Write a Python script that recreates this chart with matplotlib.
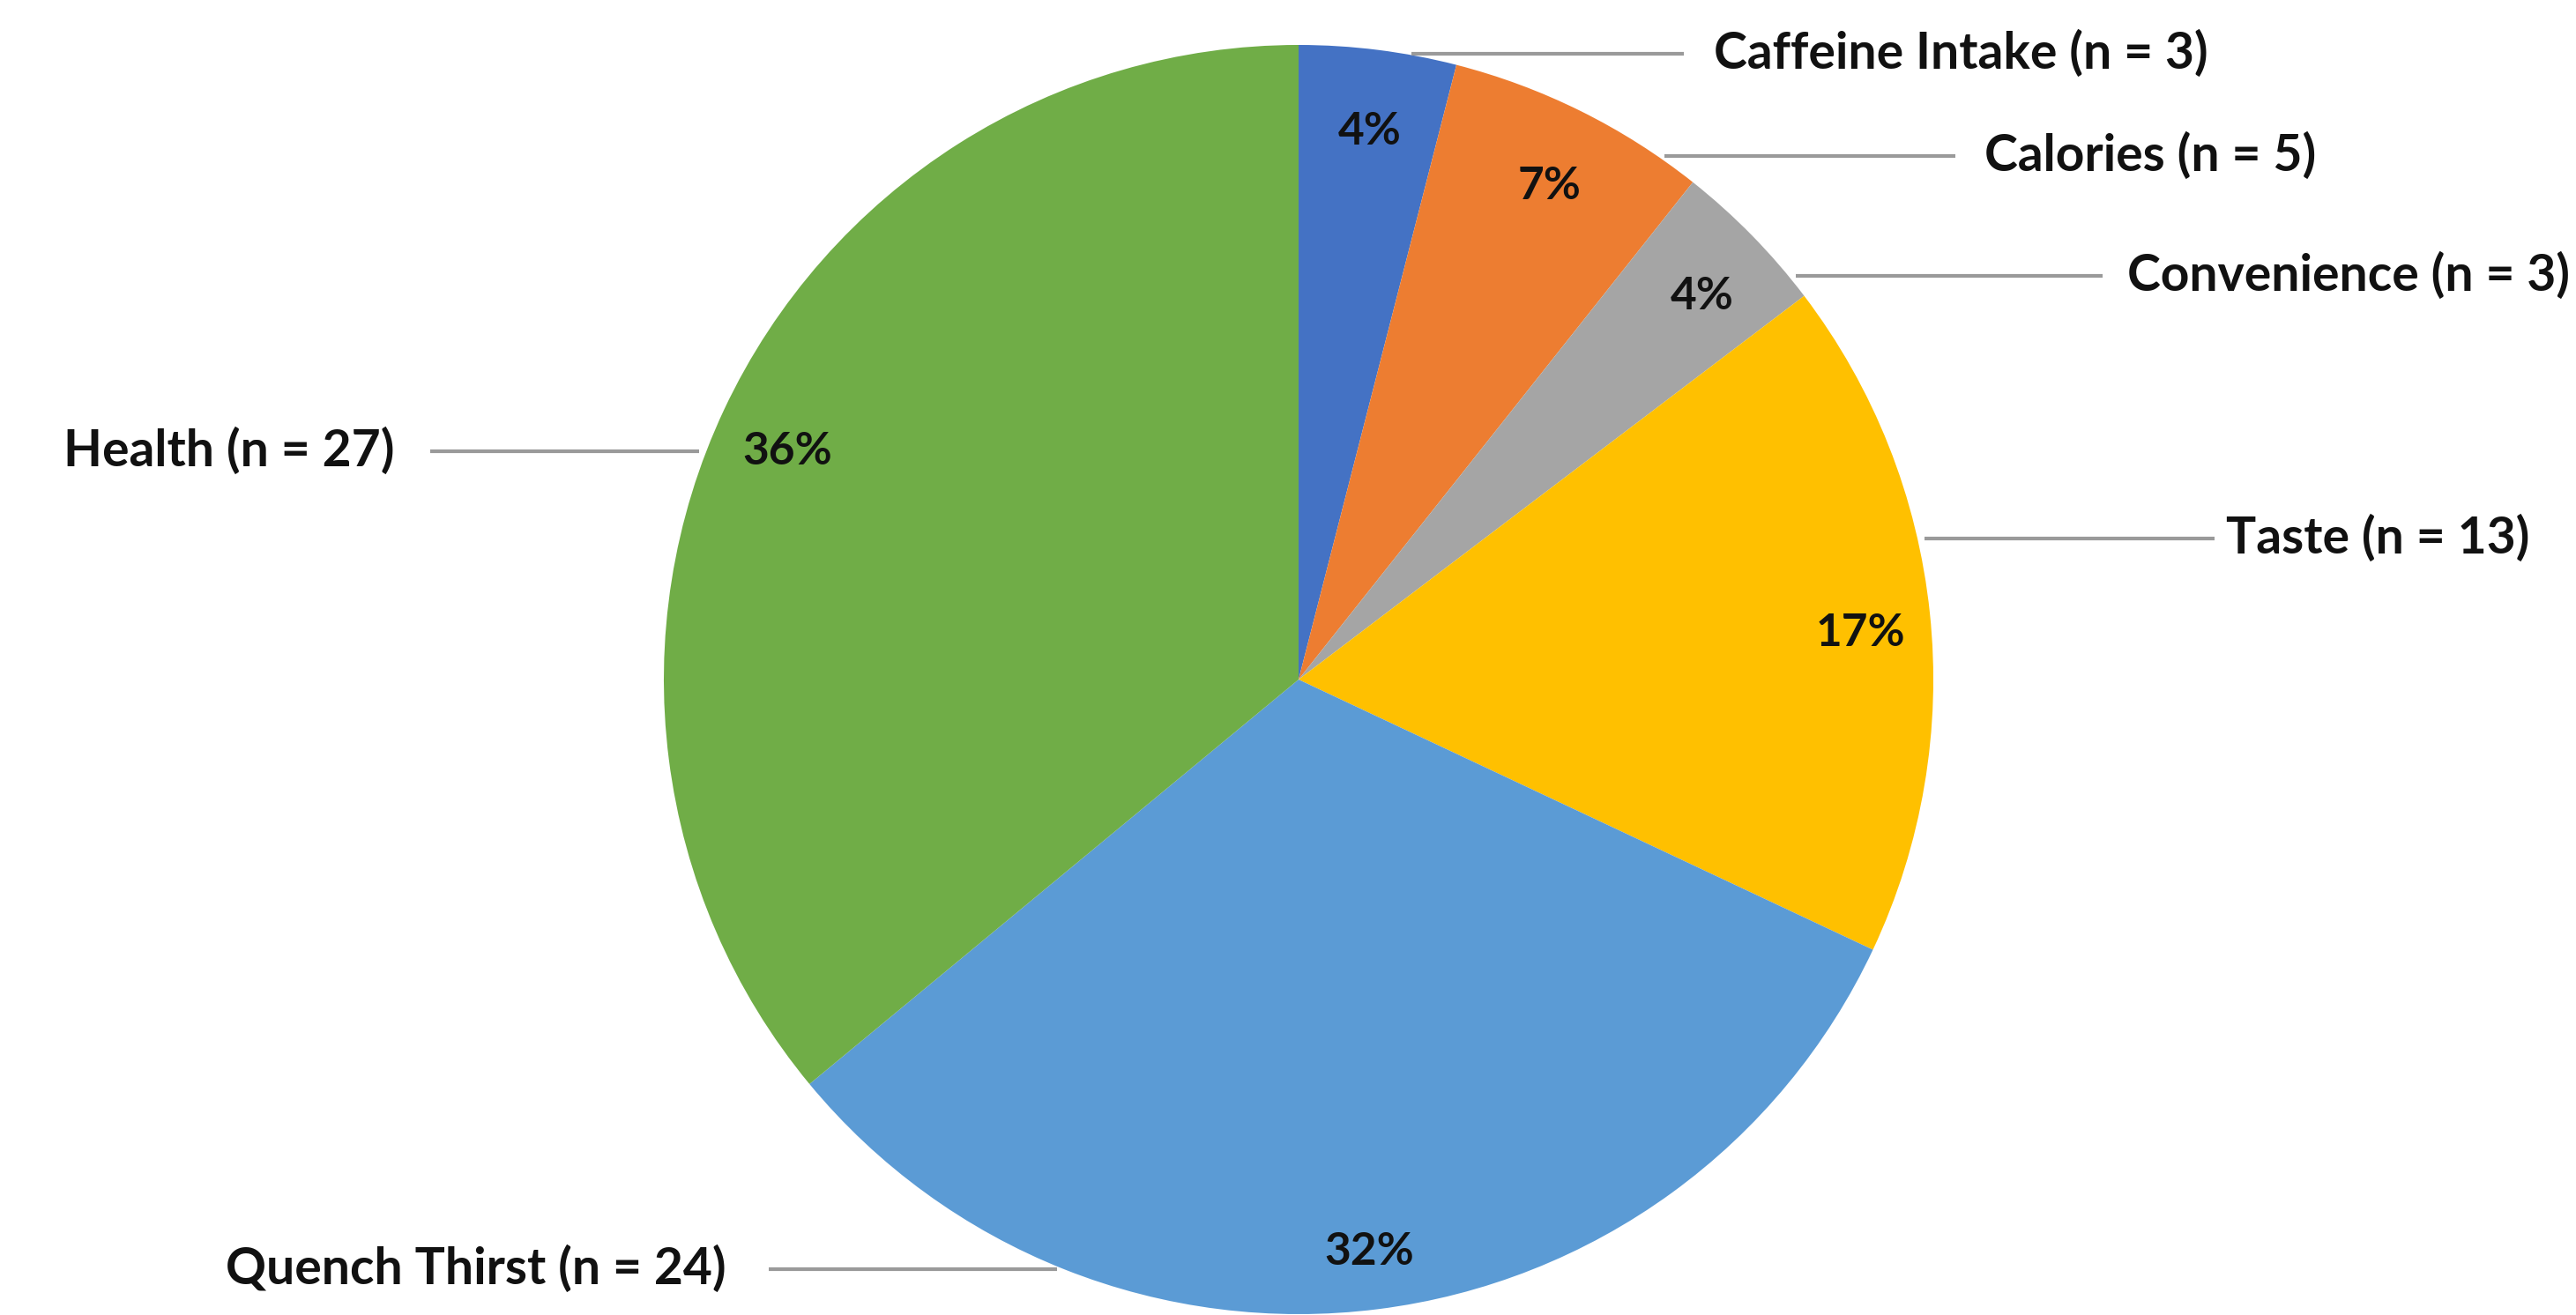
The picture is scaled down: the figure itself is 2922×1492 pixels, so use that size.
import numpy as np
import matplotlib.pyplot as plt

categories = ['Caffeine Intake', 'Calories', 'Convenience', 'Taste', 'Quench Thirst', 'Health']
counts = [3, 5, 3, 13, 24, 27]
colors = ['#4472C4', '#ED7D31', '#A5A5A5', '#FFC000', '#5B9BD5', '#70AD47']

# label placement (pixels from top-left), side: +1 right of pie, -1 left of pie
label_y = [61, 177, 313, 611, 1440, 512]
label_x = [1944, 2251, 2413, 2525, 824, 447]
line_end = [1910, 2218, 2385, 2512, 872, 488]
side = [1, 1, 1, 1, -1, -1]

W, H = 2922, 1492
cx, cy, r = 1473, H - 771, 720

fig = plt.figure(figsize=(W / 100, H / 100), dpi=100)
ax = fig.add_axes([0, 0, 1, 1])

total = sum(counts)
wedges, texts = ax.pie(counts, colors=colors, startangle=90, counterclock=False,
                       center=(cx, cy), radius=r, frame=True,
                       wedgeprops=dict(linewidth=0))
ax.set_xlim(0, W)
ax.set_ylim(0, H)
ax.set_aspect('equal')
ax.axis('off')

# percentage labels near the outer edge
for w, c in zip(wedges, counts):
    ang = np.deg2rad((w.theta1 + w.theta2) / 2)
    px = cx + 0.89 * r * np.cos(ang)
    py = cy + 0.89 * r * np.sin(ang) - 14
    ax.text(px, py, f'{round(100 * c / total)}%', ha='center', va='center',
            fontsize=37, fontweight='bold', color='#111111', family='Lato')

# category labels with horizontal leader lines
for name, c, ly, lx, le, s in zip(categories, counts, label_y, label_x, line_end, side):
    y = H - ly
    dy = y - cy
    dx = np.sqrt(max(r ** 2 - dy ** 2, 0))
    start = cx + s * (dx + 8)
    ax.plot([start, le], [y, y], color='#9a9a9a', linewidth=3, solid_capstyle='butt')
    ax.text(lx, y, f'{name} (n = {c})', ha='left' if s > 0 else 'right', va='center',
            fontsize=41, fontweight='bold', color='#111111', family='Lato')

fig.savefig('out.png', dpi=100, facecolor='white')
